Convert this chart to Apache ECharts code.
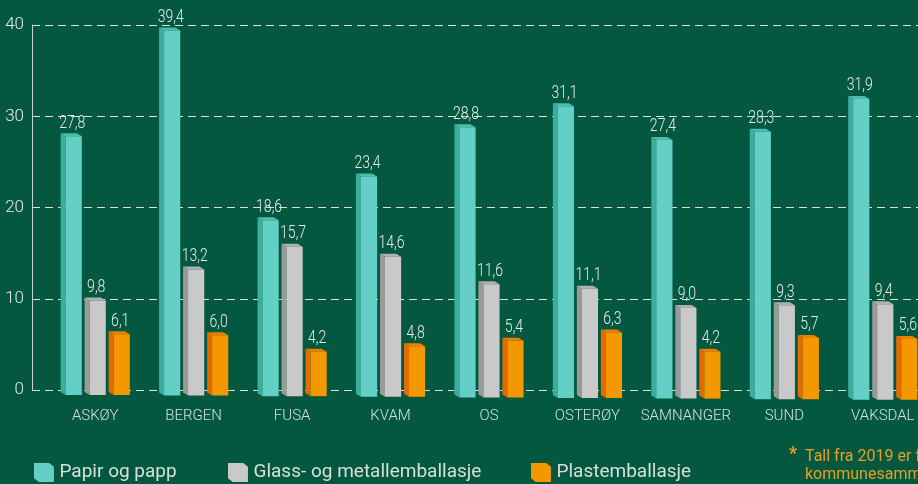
<!DOCTYPE html>
<html>
<head>
<meta charset="utf-8">
<script src="https://cdn.jsdelivr.net/npm/echarts@6/dist/echarts.min.js"></script>
<style>
html,body{margin:0;padding:0;background:#03583f;}
#c{width:918px;height:484px;}
</style>
</head>
<body>
<div id="c"></div>
<script>
const categories = ['ASKØY','BERGEN','FUSA','KVAM','OS','OSTERØY','SAMNANGER','SUND','VAKSDAL'];
const papir = [27.8, 39.4, 18.6, 23.4, 28.8, 31.1, 27.4, 28.3, 31.9];
const glass = [9.8, 13.2, 15.7, 14.6, 11.6, 11.1, 9.0, 9.3, 9.4];
const plast = [6.1, 6.0, 4.2, 4.8, 5.4, 6.3, 4.2, 5.7, 5.6];
const seriesNames = ['Papir og papp', 'Glass- og metallemballasje', 'Plastemballasje'];

const textColor = '#e6ece8';

function make3D(offsetFrac, c) {
  return function (params, api) {
    const idx = api.value(0), val = api.value(1);
    const base = api.coord([idx, 0]);
    const top = api.coord([idx, val]);
    const band = api.size([1, 0])[0];
    const cx = base[0] + offsetFrac * band;
    const total = band * 0.215;
    const side = 5, rise = 3;
    const x0 = cx - total / 2 + side, x1 = cx + total / 2;
    const yT = top[1], yB = base[1] + 5 + idx * 0.6;
    return {
      type: 'group',
      children: [
        { type: 'polygon', shape: { points: [[x0 - side, yT - rise], [x0, yT], [x0, yB], [x0 - side, yB - rise]] }, style: { fill: c.side } },
        { type: 'polygon', shape: { points: [[x0 - side, yT - rise], [x1 - side, yT - rise], [x1, yT], [x0, yT]] }, style: { fill: c.top } },
        { type: 'rect', shape: { x: x0, y: yT, width: x1 - x0, height: yB - yT }, style: { fill: c.front } },
        { type: 'text', x: cx + 1, y: yT - 4, scaleX: 0.78,
          style: { text: val.toFixed(1).replace('.', ','), x: 0, y: 0, textAlign: 'center', textVerticalAlign: 'bottom', fill: textColor, font: '300 18px Roboto' } }
      ]
    };
  };
}

const colorsList = [
  { front: '#64cfc4', side: '#3cae9e', top: '#4cbcad' },
  { front: '#c9c9c9', side: '#9a9a9a', top: '#b0b0b0' },
  { front: '#f39800', side: '#e56b00', top: '#ee7d00' }
];
const dataSets = [papir, glass, plast];
const offsets = [-24 / 98.44, 0, 24 / 98.44];
const cubeIcon = 'path://M0,0 L16,0 L21,4 L21,20 L5,20 L0,16 Z';

const chart = echarts.init(document.getElementById('c'), null, { renderer: 'canvas' });
chart.setOption({
  backgroundColor: '#03583f',
  animation: false,
  grid: [
    { left: 32, right: 0, top: 25, bottom: 94, containLabel: false, outerBoundsMode: 'none' },
    { left: 46, right: -14, top: 25, bottom: 94, containLabel: false, outerBoundsMode: 'none' }
  ],
  xAxis: [
    { type: 'category', gridIndex: 0, data: categories, show: false },
    { type: 'category', gridIndex: 1, data: categories,
      axisLine: { show: false }, axisTick: { show: false },
      axisLabel: { color: '#d6e0da', fontSize: 15, fontFamily: 'Roboto', fontWeight: 300, margin: 19, interval: 0, hideOverlap: false } }
  ],
  yAxis: [
    { type: 'value', gridIndex: 0, min: 0, max: 40, interval: 10,
      axisLine: { show: true, lineStyle: { color: '#c8d4cd', width: 1 } },
      axisTick: { show: false },
      axisLabel: { color: textColor, fontSize: 17, fontFamily: 'Roboto', fontWeight: 300, margin: 8 },
      splitLine: { show: true, lineStyle: { color: '#d8e0db', type: [8, 5], width: 1 } } },
    { type: 'value', gridIndex: 1, min: 0, max: 40, interval: 10, show: false, splitLine: { show: false } }
  ],
  legend: seriesNames.map((n, i) => ({
    data: [n], left: [34, 228, 531][i], top: 463, padding: 0, itemWidth: 21, itemHeight: 19,
    icon: cubeIcon, textStyle: { color: '#d6e0da', fontSize: 19, fontFamily: 'Roboto' }
  })),
  graphic: [
    { type: 'text', left: 789, top: 445, style: { text: '*', fill: '#e8a020', font: 'bold 18px Roboto' } },
    { type: 'text', left: 805, top: 448, style: { text: 'Tall fra 2019 er før\nkommunesammenslåingen', fill: '#e8a020', font: '16px Roboto', lineHeight: 18 } }
  ],
  series: seriesNames.map((n, i) => ({
    type: 'custom', name: n, xAxisIndex: 1, yAxisIndex: 1,
    itemStyle: { color: colorsList[i].front },
    encode: { x: 0, y: 1 },
    renderItem: make3D(offsets[i], colorsList[i]),
    data: dataSets[i].map((v, k) => [k, v])
  }))
});
</script>
</body>
</html>
